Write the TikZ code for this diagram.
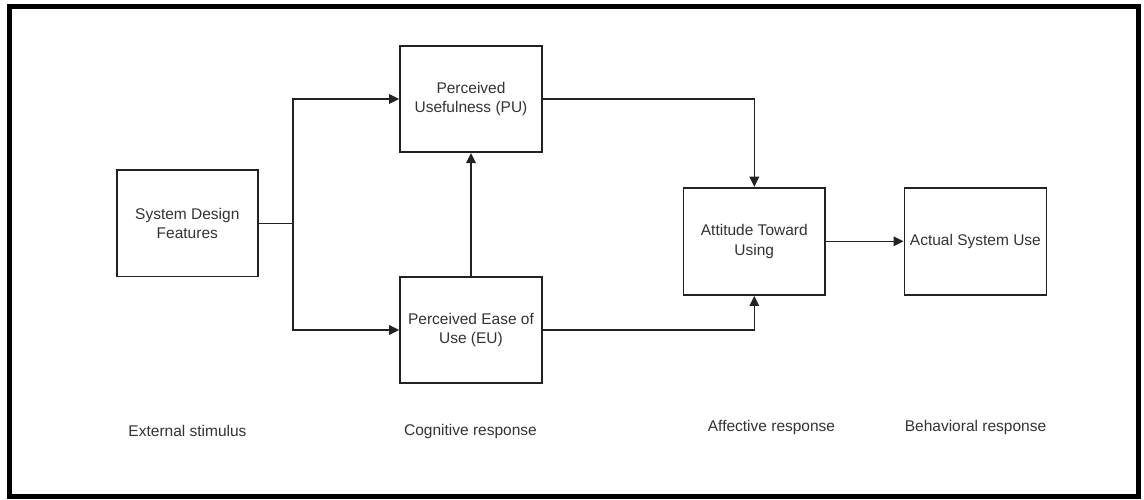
\documentclass[tikz,border=0pt]{standalone}
\usepackage{fontspec}
\setmainfont{Liberation Sans}
\usetikzlibrary{arrows.meta}
\definecolor{ink}{HTML}{222222}
\definecolor{txt}{HTML}{333333}
\begin{document}
\begin{tikzpicture}[x=1pt,y=-1pt,
  box/.style={draw=ink,line width=1.8pt,inner sep=0pt,align=center,text=txt,
    font=\fontsize{15.5}{19.5}\selectfont},
  lbl/.style={text=txt,font=\fontsize{15.5}{19.5}\selectfont,inner sep=0pt},
  conn/.style={draw=ink,line width=1.6pt},
  arr/.style={conn,-{Triangle[length=10pt,width=9.5pt]}}]
\useasboundingbox (0,0) rectangle (1144,500);
\draw[line width=5pt,black] (9.5,6.5) rectangle (1138.7,496.5);
% boxes
\node[box,minimum width=141pt,minimum height=106.5pt] (sdf) at (187.3,223.3) {System Design\\Features};
\node[box,minimum width=142pt,minimum height=106.3pt] (pu) at (471,99) {Perceived\\Usefulness (PU)};
\node[box,minimum width=142pt,minimum height=106pt] (eu) at (471,330) {Perceived Ease of\\Use (EU)};
\node[box,minimum width=141.7pt,minimum height=107.3pt] (att) at (754.3,241.3) {Attitude Toward\\Using};
\node[box,minimum width=142pt,minimum height=107.3pt] (asu) at (975.4,241.3) {Actual System Use};
% junction coordinates
\coordinate (j) at (293,223.3);
% connectors
\draw[conn] (sdf.east) -- (j);
\draw[arr] (j) |- (pu.west);
\draw[arr] (j) |- (eu.west);
\draw[arr] (eu.north) -- (pu.south);
\draw[arr] (pu.east) -| (att.north);
\draw[arr] (eu.east) -| (att.south);
\draw[arr] (att.east) -- (asu.west);
% labels
\node[lbl] (l1) at (187.5,431) {External stimulus};
\node[lbl] (l2) at (470.5,431) {Cognitive response};
\node[lbl] (l3) at (771.5,427) {Affective response};
\node[lbl] (l4) at (975.5,427) {Behavioral response};
\end{tikzpicture}
\end{document}
